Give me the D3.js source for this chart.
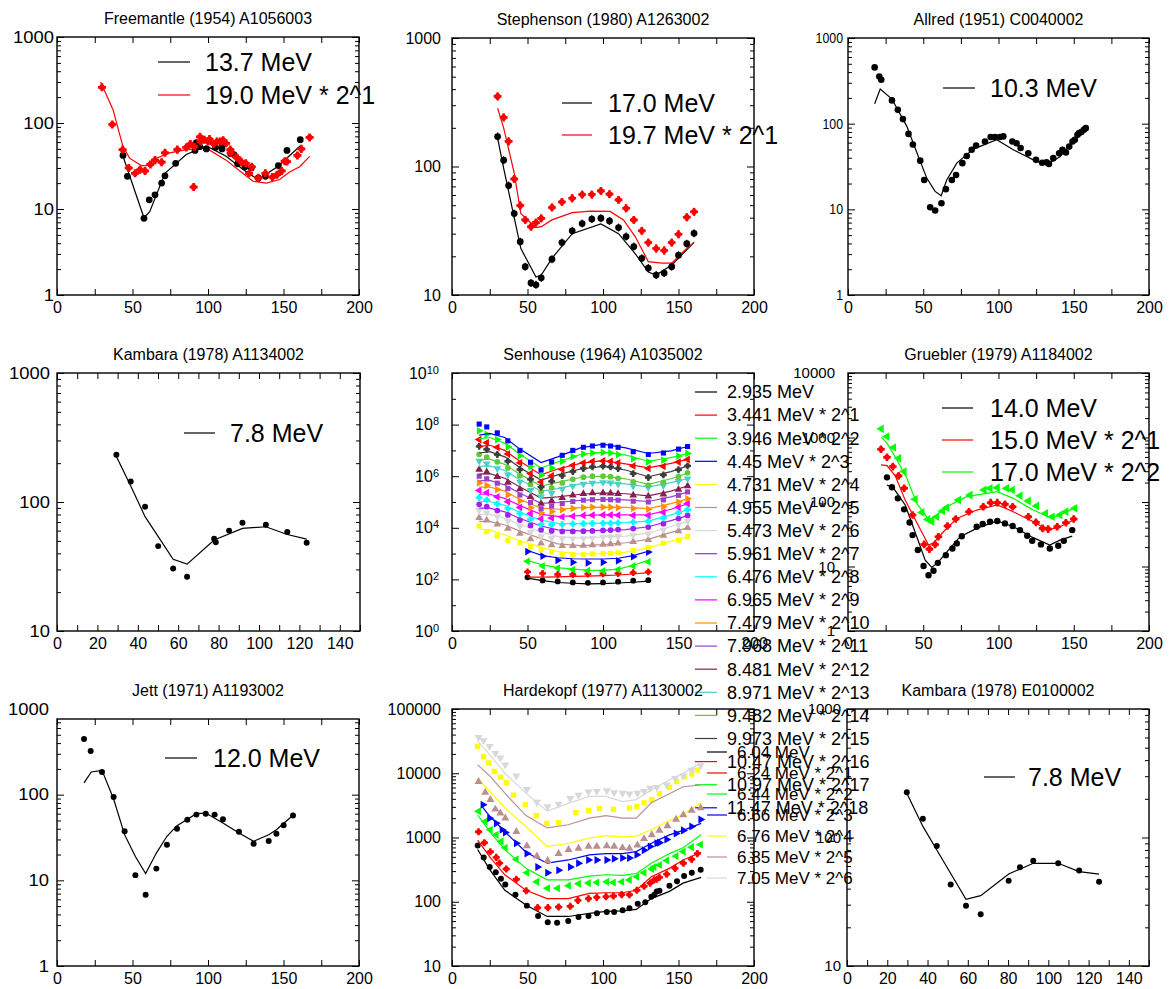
<!DOCTYPE html>
<html>
<head>
<meta charset="utf-8">
<script src="https://cdn.jsdelivr.net/npm/d3@7"></script>
<style>
  body { margin: 0; background: #fff; }
  text { font-family: "Liberation Sans", Arial, Helvetica, sans-serif; fill: #000; }
</style>
</head>
<body>
<svg id="chart" width="1169" height="989"></svg>
<script>
// ---------- Freemantle (1954) A1056003 ----------
const fmBlackX = [43.7, 46.6, 57.6, 61.1, 64.9, 69.3, 71.5, 78.6, 91.4, 92.3, 94.5, 98.9, 105, 109.3, 109.5, 115, 117.2, 119.6, 124.5, 128.7, 133.3, 138, 146.6, 152.3, 161.1];
const fmBlackY = [42, 24, 7.8, 12.8, 14.6, 20, 24.3, 34, 48, 59, 53, 50, 52, 50, 55, 44, 43, 33.5, 31, 30, 23, 24, 32, 48, 64];
const fmRedX = [29.8, 36.6, 43.5, 47.5, 51.7, 55, 58.3, 61.8, 64.9, 69.3, 71.5, 79.7, 85.6, 88.3, 90.5, 91, 94.7, 95.1, 97.6, 100, 101, 103.7, 106, 108.2, 110, 112, 114.8, 115, 118.8, 119.6, 122.3, 125, 127.2, 129, 133.3, 138, 142.6, 145.7, 148.8, 150.8, 152.3, 159.2, 161.8, 167.3];
const fmRedY = [260, 96, 49, 30, 26, 28.6, 27.7, 33, 37, 35, 45, 49, 52, 57, 18, 53, 69, 61, 64, 61, 65, 57, 61, 61, 63, 58, 49, 45, 40, 39, 35, 34, 26, 31, 23, 26, 23.5, 25, 27.7, 36, 35.6, 42, 50, 68];
const fmBlackFitX = [43.7, 57.6, 61.4, 71.5, 85.6, 98.9, 112, 123, 133, 146, 161];
const fmBlackFitY = [41, 7.9, 9.3, 26, 43, 54, 41, 29, 22, 31, 54];
const fmRedFitX = [28.9, 37.1, 43.7, 48.1, 55.8, 59.2, 65.8, 74.6, 85.6, 98.9, 112, 123, 129.8, 138.6, 147.5, 154, 160.7, 167.3];
const fmRedFitY = [300, 143, 53, 39, 32, 32, 39, 45, 49, 51, 37, 26, 21, 20, 22, 27, 31, 41];

// ---------- Stephenson (1980) A1263002 ----------
const stAngles = [30.2, 34.2, 37.5, 41.2, 45.2, 48.5, 52.3, 55.6, 59.1, 66.2, 72.8, 79.6, 86.2, 92.6, 98.6, 104.3, 110.3, 115.3, 120.4, 125.7, 130, 135.2, 140.5, 145.5, 150, 155.5, 160.3];
const stBlackY = [171, 112, 71, 43, 26, 16.6, 12.4, 12, 13.6, 19, 25.6, 31.6, 36, 39, 39.6, 37.7, 33.5, 28.5, 23.8, 19.3, 16.2, 14.3, 14.8, 16.6, 20.4, 25.1, 30.2];
const stRedY = [351, 241, 157, 80, 49.7, 38.4, 34, 36.6, 39.5, 48, 53, 56.6, 60.5, 60.5, 64.6, 61, 55, 47.3, 38.4, 31.6, 25.6, 23, 22.2, 25.6, 29.7, 40.3, 44.4];
const stBlackFitX = [30.2, 34.2, 41.2, 45.6, 55.6, 59.1, 66.2, 79.6, 98.6, 110.3, 121.3, 130, 135.2, 145.5, 160.3];
const stBlackFitY = [166, 97, 40, 23, 13.8, 14.3, 19.3, 30, 35.7, 30, 21, 15.1, 14.3, 17.1, 25.7];
const stRedFitX = [30.2, 34.2, 41.2, 45.6, 55.6, 59.1, 66.2, 79.6, 91.5, 104.7, 113.6, 121.3, 130, 138.9, 145.5, 153.3, 160.3];
const stRedFitY = [285, 200, 89, 43, 33.5, 34, 38.4, 43.7, 45, 44.7, 38.4, 28.5, 18.2, 17.7, 17.7, 21.8, 25.7];

// ---------- Allred (1951) C0040002 ----------
const alX = [17.7, 20.8, 22.1, 29.2, 33.1, 36.5, 40.2, 43.1, 48, 50.6, 54.6, 57.9, 62.1, 65, 69, 71.8, 76, 78.9, 82.2, 85.1, 91, 94.8, 97.7, 101, 103.2, 109.2, 112, 114.7, 119.8, 124.9, 129, 131.9, 133.5, 136.4, 140.3, 142.5, 144.8, 147, 149.2, 150.7, 152.5, 153.6, 155.1, 156.7, 158];
const alY = [454, 356, 326, 187, 145, 113, 76, 57, 37, 22, 10.6, 9.7, 11.8, 17.2, 22, 25.2, 34.6, 42, 49.6, 55.6, 62, 70, 70, 70, 71, 62, 59, 52, 45, 37.8, 35, 35.5, 33.9, 39.6, 45, 49.6, 46, 54, 62, 65, 74, 77.6, 80, 85, 88.7];
const alFitX = [17.7, 21.4, 29.2, 39.1, 46.8, 52.4, 57.9, 61.9, 65.6, 72.3, 83.3, 98.8, 109.8, 123.1, 131.9, 140.8, 149.6, 158];
const alFitY = [171, 254, 194, 93, 41, 23, 16.2, 14.4, 22, 34.6, 50.5, 65, 49.6, 37.8, 33, 41, 62, 93];

// ---------- Kambara (1978) A1134002 ----------
const kaX = [29.4, 36.5, 43.6, 50.1, 57.5, 64.4, 77.8, 78.6, 85.2, 91.8, 103.4, 114, 123.6];
const kaY = [232, 144, 92, 45.5, 30.5, 26.3, 52, 48.7, 60, 69, 66.7, 58.5, 48.3];
const kaFitX = [29.4, 36.5, 43.6, 57.5, 64.4, 77.8, 91.8, 103.4, 114, 123.6];
const kaFitY = [225, 133, 77, 36, 33, 50.7, 62.4, 64.3, 56, 51.5];

// ---------- Senhouse (1964) A1035002 (values are powers of ten, as on its axis) ----------
const senEnergies = ["2.935", "3.441", "3.946", "4.45", "4.731", "4.955", "5.473", "5.961", "6.476", "6.965", "7.479", "7.968", "8.481", "8.971", "9.482", "9.973", "10.47", "10.97", "11.47"];
const senColors = ["#000000", "#ff0000", "#00ff00", "#0000ff", "#ffff00", "#bc8f8f", "#d8d8d8", "#a020f0", "#00ffff", "#ff00ff", "#ff9000", "#9a3fd0", "#862050", "#48d1cc", "#64c83c", "#3c3c3c", "#ff0000", "#00ff00", "#0000ff"];
const senAnglesShort = [50, 60, 70, 80, 90, 100, 110, 120, 130];
const senAnglesLong = [18, 23, 30, 37, 45, 52, 59, 66, 73, 80, 87, 93, 100, 105, 110, 120, 130, 140, 150, 156];
const senFitAnglesLong = [18, 25, 35, 45, 59, 70, 85, 100, 115, 130, 145, 156];
const senMarks = [
  [2.08, 1.96, 1.92, 1.88, 1.87, 1.88, 1.91, 1.95, 1.97],
  [2.29, 2.23, 2.19, 2.19, 2.21, 2.22, 2.23, 2.26, 2.29],
  [2.70, 2.52, 2.44, 2.38, 2.34, 2.33, 2.38, 2.52, 2.68],
  [3.08, 2.90, 2.74, 2.66, 2.64, 2.66, 2.72, 2.88, 3.06],
  [4.07, 3.85, 3.68, 3.51, 3.42, 3.27, 3.15, 3.06, 2.98, 2.96, 2.97, 2.99, 3.00, 3.01, 3.03, 3.12, 3.23, 3.40, 3.52, 3.66],
  [4.39, 4.29, 4.14, 3.97, 3.78, 3.57, 3.40, 3.33, 3.30, 3.30, 3.31, 3.33, 3.35, 3.37, 3.40, 3.46, 3.54, 3.70, 3.88, 4.00],
  [4.68, 4.58, 4.43, 4.26, 4.06, 3.84, 3.66, 3.60, 3.58, 3.58, 3.59, 3.61, 3.64, 3.65, 3.67, 3.71, 3.77, 3.92, 4.12, 4.25],
  [4.91, 4.82, 4.67, 4.50, 4.30, 4.09, 3.92, 3.88, 3.86, 3.86, 3.87, 3.88, 3.90, 3.91, 3.93, 3.97, 4.03, 4.16, 4.36, 4.48],
  [5.17, 5.08, 4.93, 4.75, 4.55, 4.33, 4.13, 4.12, 4.13, 4.15, 4.16, 4.17, 4.18, 4.18, 4.19, 4.22, 4.25, 4.38, 4.58, 4.70],
  [5.45, 5.36, 5.20, 5.01, 4.79, 4.55, 4.35, 4.38, 4.42, 4.45, 4.48, 4.49, 4.50, 4.50, 4.49, 4.48, 4.48, 4.60, 4.80, 4.94],
  [5.74, 5.64, 5.48, 5.28, 5.04, 4.78, 4.57, 4.63, 4.70, 4.75, 4.78, 4.80, 4.80, 4.80, 4.78, 4.75, 4.72, 4.82, 5.00, 5.13],
  [6.00, 5.90, 5.73, 5.52, 5.27, 4.98, 4.74, 4.84, 4.94, 5.02, 5.07, 5.09, 5.10, 5.09, 5.07, 5.03, 5.00, 5.08, 5.26, 5.39],
  [6.26, 6.16, 5.98, 5.76, 5.50, 5.20, 4.94, 5.04, 5.16, 5.26, 5.32, 5.35, 5.35, 5.34, 5.32, 5.26, 5.22, 5.30, 5.48, 5.62],
  [6.59, 6.48, 6.30, 6.06, 5.78, 5.46, 5.20, 5.34, 5.50, 5.62, 5.70, 5.74, 5.76, 5.75, 5.70, 5.62, 5.56, 5.64, 5.80, 5.90],
  [6.85, 6.74, 6.56, 6.32, 6.02, 5.68, 5.40, 5.55, 5.74, 5.88, 5.96, 6.00, 6.00, 5.98, 5.92, 5.78, 5.65, 5.76, 5.98, 6.13],
  [7.16, 7.04, 6.84, 6.58, 6.26, 5.88, 5.58, 5.80, 6.02, 6.18, 6.30, 6.36, 6.39, 6.36, 6.30, 6.10, 5.95, 6.05, 6.25, 6.40],
  [7.42, 7.30, 7.12, 6.86, 6.52, 6.10, 5.78, 6.02, 6.26, 6.42, 6.52, 6.57, 6.59, 6.57, 6.52, 6.40, 6.30, 6.38, 6.55, 6.65],
  [7.76, 7.62, 7.42, 7.14, 6.80, 6.38, 6.04, 6.32, 6.58, 6.76, 6.86, 6.90, 6.92, 6.90, 6.84, 6.68, 6.56, 6.62, 6.78, 6.88],
  [8.02, 7.91, 7.68, 7.37, 7.00, 6.54, 6.24, 6.55, 6.81, 7.00, 7.12, 7.17, 7.20, 7.17, 7.12, 6.95, 6.84, 6.90, 7.05, 7.15]
];
const senFits = [
  [2.05, 1.95, 1.88, 1.85, 1.83, 1.84, 1.86, 1.89, 1.93],
  [2.09, 2.09, 2.10, 2.12, 2.13, 2.15, 2.17, 2.21, 2.26],
  [2.74, 2.56, 2.46, 2.40, 2.36, 2.35, 2.40, 2.55, 2.74],
  [3.12, 2.92, 2.84, 2.80, 2.79, 2.79, 2.82, 2.92, 3.09],
  [3.95, 3.92, 3.72, 3.50, 3.25, 3.08, 2.98, 3.00, 3.06, 3.22, 3.48, 3.66],
  [4.25, 4.25, 4.11, 3.87, 3.58, 3.38, 3.31, 3.35, 3.42, 3.55, 3.82, 4.00],
  [4.52, 4.52, 4.38, 4.13, 3.84, 3.66, 3.60, 3.64, 3.68, 3.79, 4.05, 4.25],
  [4.76, 4.76, 4.62, 4.36, 4.07, 3.92, 3.88, 3.90, 3.93, 4.04, 4.28, 4.47],
  [5.02, 5.02, 4.87, 4.60, 4.30, 4.17, 4.16, 4.18, 4.20, 4.26, 4.50, 4.70],
  [5.30, 5.30, 5.14, 4.86, 4.52, 4.44, 4.47, 4.50, 4.50, 4.50, 4.72, 4.93],
  [5.58, 5.58, 5.42, 5.10, 4.76, 4.72, 4.78, 4.80, 4.79, 4.74, 4.94, 5.12],
  [5.82, 5.84, 5.66, 5.34, 4.95, 4.98, 5.06, 5.10, 5.08, 5.02, 5.20, 5.38],
  [6.08, 6.10, 5.92, 5.58, 5.15, 5.20, 5.30, 5.35, 5.32, 5.24, 5.42, 5.62],
  [6.38, 6.40, 6.22, 5.86, 5.42, 5.52, 5.70, 5.76, 5.70, 5.58, 5.75, 5.90],
  [6.62, 6.66, 6.46, 6.08, 5.62, 5.76, 5.95, 6.00, 5.90, 5.68, 5.90, 6.12],
  [6.90, 6.95, 6.75, 6.33, 5.85, 6.05, 6.28, 6.38, 6.24, 5.98, 6.18, 6.40],
  [7.15, 7.20, 7.00, 6.58, 6.05, 6.28, 6.50, 6.60, 6.48, 6.32, 6.50, 6.65],
  [7.45, 7.50, 7.28, 6.85, 6.32, 6.55, 6.84, 6.93, 6.82, 6.58, 6.72, 6.88],
  [7.59, 7.66, 7.50, 7.05, 6.53, 6.75, 7.10, 7.24, 7.10, 6.88, 6.98, 7.15]
];

// ---------- Gruebler (1979) A1184002 ----------
const grBlackX = [25.9, 29.2, 33.1, 37.3, 40.9, 42.9, 46.4, 50.2, 53.5, 56.8, 59.7, 65, 69.4, 72.3, 75.6, 85.5, 89.5, 94.4, 99.2, 104.3, 109.4, 114.3, 119.1, 122.4, 128.2, 134.1, 139.7, 143.4, 149];
const grBlackY = [241, 169, 114, 77, 48, 30.7, 18, 10.2, 7.3, 8.6, 11.4, 15, 19, 22.8, 29.5, 41.4, 45.5, 49.4, 50.7, 46.6, 42.4, 36.7, 30, 25, 22, 19, 21, 25, 36.7];
const grRedX = [21.9, 25.9, 29.8, 33.6, 37.3, 42.9, 50.6, 54.1, 57.9, 60.1, 66.1, 71.6, 80.4, 89.9, 94.8, 99.2, 104.3, 109.4, 119.8, 124.9, 129.3, 133, 139, 144.8, 150];
const grRedY = [659, 494, 354, 254, 163, 63, 22, 18.6, 22, 29, 42.4, 54.5, 70.8, 84.6, 97.7, 97.7, 92, 84.6, 59, 48.3, 39, 38, 41.4, 47.8, 54.5];
const grGreenX = [22.1, 25.9, 30.3, 33.6, 37.3, 44.6, 49.1, 53, 55.7, 59, 62.8, 65.6, 73.4, 81.1, 90.4, 94.4, 99.2, 105.4, 109.2, 114.3, 119.8, 125.3, 131.3, 135.7, 140.8, 144.8, 150.7];
const grGreenY = [1365, 1038, 700, 478, 297, 110, 69, 53.7, 49.4, 59, 72.4, 81.7, 107, 128, 154, 163, 167, 163, 154, 125, 104, 87, 66.7, 59, 63, 70.8, 80];
const grBlackFitX = [25.9, 30.3, 38, 45.7, 51.3, 55.7, 60.1, 66.7, 74.5, 85.5, 99.2, 109.8, 123.1, 134.1, 140.8, 149];
const grBlackFitY = [184, 163, 90, 29, 12.5, 9.7, 11.8, 18, 29, 39, 51, 41.4, 28, 21.5, 25.6, 29.6];
const grRedFitX = [21.9, 25.9, 31.4, 38, 45.7, 53.5, 56.8, 63.4, 72.3, 85.5, 99.2, 109.8, 123.1, 133, 140.8, 150];
const grRedFitY = [376, 367, 254, 107, 48, 21.5, 23.3, 34.6, 55.7, 75, 90, 70.8, 49.4, 36.7, 41.4, 52.5];
const grGreenFitX = [22.1, 25.9, 32.5, 39.1, 45.7, 53.5, 56.8, 65.6, 78.9, 99.2, 109.8, 123.1, 135.3, 143, 150.7];
const grGreenFitY = [1012, 817, 450, 233, 95, 53.7, 57.8, 84.6, 121, 145, 114, 75, 55.7, 66.7, 81.7];

// ---------- Jett (1971) A1193002 ----------
const jtX = [17.9, 22.3, 29.8, 37.5, 44.8, 51.9, 58.7, 65.8, 72.8, 79.5, 86.3, 92.3, 98.5, 104.4, 109.9, 120.5, 130.2, 140.2, 145.3, 150.1, 156.3];
const jtY = [447, 324, 184, 94, 37.3, 11.5, 6.8, 13.7, 26, 40, 51, 58.5, 60, 58.5, 51.5, 37, 26.8, 28.8, 35, 43.9, 57];
const jtFitX = [17.9, 22.7, 29.8, 37.5, 44.8, 51.9, 58.7, 65.8, 72.8, 79.5, 92.3, 98.5, 109.9, 120.5, 130.2, 140.2, 145.3, 156.3];
const jtFitY = [137, 184, 192, 89, 34, 19, 12, 20.8, 32.7, 43.5, 60, 61, 46.7, 35.7, 28.5, 34, 39, 57.4];

// ---------- Hardekopf (1977) A1130002 ----------
const hkEnergies = ["6.04", "6.24", "6.44", "6.66", "6.76", "6.85", "7.05"];
const hkColors = ["#000000", "#ff0000", "#00ff00", "#0000ff", "#ffff00", "#bc8f8f", "#d8d8d8"];
const hkMarkX = [
  [17, 21, 25, 29, 32.4, 35.3, 42, 49.6, 57, 63.4, 69.6, 77, 83.8, 90.4, 96, 102.5, 107.4, 113, 117.5, 123, 128, 132, 134, 135.6, 137.4, 144, 149, 153.7, 158.8, 164.7],
  [17.6, 21.4, 25.4, 29.3, 31.5, 35.9, 42.6, 49.2, 56.7, 63.5, 70.6, 78.3, 83.4, 90.4, 95.9, 102, 106.9, 112.4, 117.5, 122.4, 127.2, 131.2, 133.8, 135.6, 137.4, 142.2, 147.7, 153.2, 158.7, 162.5],
  [17.6, 22, 25.4, 29.3, 32.6, 35.3, 42.6, 49.6, 56.2, 63.3, 69.9, 77.2, 83.8, 90.4, 95.9, 102.5, 106.9, 112.5, 117.5, 122.4, 127.2, 132.3, 133.8, 137.4, 142.2, 148.4, 153.2, 158.7, 164.6],
  [20.5, 24.9, 29.3, 33.1, 35.3, 42.6, 49.6, 56.7, 63.3, 70.6, 78.3, 83.8, 90.4, 95.9, 102.5, 107.4, 112.9, 117.5, 122.4, 127.2, 131.2, 135.6, 137.4, 142.2, 148.4, 153.2, 158.7, 164.7],
  [17, 20.9, 24.3, 28, 32, 35.9, 40.8, 48.5, 55.8, 62.8, 70.6, 82, 90.4, 97.7, 106.9, 117.5, 122.4, 127.2, 132.3, 137.4, 144, 148.8, 153.7, 158.8, 162.5],
  [17.6, 22, 25.4, 28.7, 32, 35.3, 42.6, 49.6, 56.2, 63.3, 70.6, 77.2, 83.8, 90.4, 95.9, 102.5, 107.4, 112.9, 117.5, 122.8, 127.2, 132.3, 137.4, 142.7, 148.4, 153.2, 158.7, 164.7],
  [17.6, 20.9, 24.9, 28.7, 32, 35.3, 42.6, 49.6, 56.2, 63.3, 70.6, 78.3, 83.8, 90.4, 95.9, 102.5, 107.4, 112.9, 117.5, 122.8, 127.2, 131.2, 135.6, 142.2, 147.7, 153.2, 158.7, 164.7]
];
const hkMarkY = [
  [750, 490, 347, 288, 229, 186, 129, 87, 60, 48, 47, 50, 58, 60, 66, 69, 69, 74, 79, 93, 98, 120, 129, 145, 148, 178, 209, 251, 282, 316],
  [1230, 830, 600, 490, 400, 324, 224, 148, 81, 81, 83, 85, 105, 112, 117, 120, 123, 129, 129, 151, 174, 195, 219, 224, 240, 269, 331, 398, 457, 562],
  [2570, 1780, 1320, 1100, 870, 690, 457, 282, 204, 162, 162, 178, 190, 195, 200, 204, 200, 204, 219, 245, 282, 324, 347, 372, 437, 513, 603, 708, 776],
  [3240, 2000, 1660, 1320, 1200, 813, 562, 347, 282, 309, 347, 398, 447, 447, 447, 468, 479, 479, 537, 631, 724, 813, 832, 933, 1150, 1290, 1480, 1910],
  [26300, 18200, 14500, 10700, 8700, 7100, 4570, 3240, 2190, 1660, 1700, 2450, 2630, 2820, 2750, 2880, 3020, 3470, 3890, 4790, 6030, 7410, 8910, 9770, 11200],
  [7400, 5010, 3890, 2750, 2400, 2000, 1230, 741, 513, 437, 562, 646, 676, 724, 724, 741, 724, 692, 676, 759, 955, 1100, 1290, 1510, 1910, 2240, 2630, 2880],
  [36300, 32400, 26300, 20400, 17400, 13500, 9100, 5620, 3550, 3020, 3310, 4070, 4570, 5130, 5250, 5370, 5010, 4900, 4790, 4900, 5250, 5890, 6030, 6610, 8320, 9120, 11200, 13200]
];
const hkFitAngles = [17, 25, 35, 49, 63, 77, 91, 102, 113, 122, 132, 144, 153, 165];
const hkFitAnglesBlue = [20, 25, 35, 49, 63, 77, 91, 102, 113, 122, 132, 144, 153, 165];
const hkFitY = [
  [650, 316, 151, 89, 59, 59, 66, 71, 72, 76, 112, 145, 195, 240],
  [910, 500, 263, 151, 112, 112, 135, 138, 138, 151, 245, 331, 447, 590],
  [2240, 1230, 646, 331, 219, 219, 251, 263, 257, 275, 398, 562, 692, 1100],
  [3020, 2140, 1230, 589, 398, 447, 537, 562, 562, 603, 813, 1100, 1290, 1660],
  [8300, 5250, 2880, 1480, 724, 813, 977, 1070, 1020, 1050, 1320, 1820, 2290, 3470],
  [13500, 9100, 4900, 2190, 1410, 1580, 2000, 2190, 2000, 2000, 3470, 4790, 6170, 6610],
  [31600, 19500, 10000, 4900, 2570, 3390, 4370, 4370, 3630, 3890, 5500, 7940, 10000, 14500]
];

// ---------- Kambara (1978) E0100002 ----------
const keX = [29.7, 37.7, 44.6, 51.5, 59.1, 66.4, 80.3, 85.9, 92.5, 104.9, 115.3, 125.2];
const keY = [225, 140, 86, 43, 29.4, 25.3, 46, 58.7, 66, 63, 55.3, 45.2];
const keFitX = [29.7, 37.7, 44.6, 59.1, 66.4, 80.3, 92.5, 104.9, 115.3, 125.2];
const keFitY = [221, 122, 80, 33, 35.3, 52, 63, 63, 54.3, 51.8];

// ================= drawing =================
const svg = d3.select("#chart");

// marker cycle used by the plotting program: circle, cross, left/right triangle, square, up/down triangle
const markerCycle = [
  [d3.symbolCircle, 0], [d3.symbolCross, 0], [d3.symbolTriangle, -90],
  [d3.symbolTriangle, 90], [d3.symbolSquare, 0], [d3.symbolTriangle, 0], [d3.symbolTriangle, 180]
];

function decadeTicks(lo, hi) {
  const majors = [], minors = [];
  for (let d = lo; d <= hi; d *= 10) {
    majors.push(d);
    if (d < hi) for (let k = 2; k <= 9; k++) minors.push(k * d);
  }
  return { majors, minors };
}

function panel(o) {
  const g = svg.append("g");
  const fTop = o.frameTop || o.top;
  const x = d3.scaleLinear().domain(o.xDomain).range([o.left, o.right]);
  const y = o.y.copy().range([o.bottom, o.top]);
  const inFrame = v => y(v) >= fTop - 0.5;

  g.append("text")
    .attr("x", (o.left + o.right) / 2).attr("y", o.top - 13)
    .attr("text-anchor", "middle").style("font-size", "16px")
    .text(o.title);

  // x axes (bottom with labels, top ticks only)
  const xt = d3.range(o.xDomain[0], o.xDomain[1] + 1e-9, o.xStep);
  const xb = g.append("g").attr("transform", `translate(0,${o.bottom})`)
    .call(d3.axisBottom(x).tickValues(xt).tickSize(-6).tickSizeOuter(0).tickPadding(7)
      .tickFormat(d => d % o.xLabelStep === 0 ? d : ""));
  xb.selectAll("text").style("font-size", "16px");
  g.append("g").attr("transform", `translate(0,${fTop})`)
    .call(d3.axisTop(x).tickValues(xt).tickSize(-6).tickSizeOuter(0).tickFormat(""));

  // y axes
  const majors = o.yTicks.majors, minors = o.yTicks.minors.filter(inFrame);
  const st = o.yStretch || 1;
  const yl = g.append("g").attr("transform", `translate(${o.left},0)`)
    .call(d3.axisLeft(y).tickValues(majors).tickSize(-7).tickSizeOuter(0).tickPadding(o.yPad)
      .tickFormat(o.yFormat || (d => d)));
  yl.selectAll(".tick").filter(d => !inFrame(d)).select("line").remove();
  yl.selectAll("text").style("font-size", (o.yFont || 16) + "px")
    .attr("transform", `scale(${st},1)`).attr("x", -o.yPad / st);
  g.append("g").attr("transform", `translate(${o.left},0)`)
    .call(d3.axisLeft(y).tickValues(minors).tickSize(-4).tickSizeOuter(0).tickFormat(""));
  g.append("g").attr("transform", `translate(${o.right},0)`)
    .call(d3.axisRight(y).tickValues(majors.filter(inFrame)).tickSize(-7).tickSizeOuter(0).tickFormat(""));
  g.append("g").attr("transform", `translate(${o.right},0)`)
    .call(d3.axisRight(y).tickValues(minors).tickSize(-4).tickSizeOuter(0).tickFormat(""));
  g.selectAll(".domain").remove();
  g.selectAll(".tick line").attr("stroke", "#000");

  g.append("rect")
    .attr("x", o.left).attr("y", fTop)
    .attr("width", o.right - o.left).attr("height", o.bottom - fTop)
    .attr("fill", "none").attr("stroke", "#000").attr("stroke-width", 1.4);

  return { g, x, y };
}

function curve(p, xs, ys, color) {
  const line = d3.line().x(d => p.x(d[0])).y(d => p.y(d[1]));
  p.g.append("path")
    .datum(xs.map((v, i) => [v, ys[i]]))
    .attr("d", line).attr("fill", "none")
    .attr("stroke", color).attr("stroke-width", 1.2);
}

function marks(p, xs, ys, color, shapeIdx, size, errBar) {
  const [type, rot] = markerCycle[shapeIdx % 7];
  const sym = d3.symbol().type(type).size(size);
  const pts = xs.map((v, i) => [v, ys[i]]);
  const at = d => `translate(${p.x(d[0])},${p.y(d[1])})`;
  if (errBar) {
    p.g.selectAll(null).data(pts).join("line")
      .attr("x1", d => p.x(d[0])).attr("x2", d => p.x(d[0]))
      .attr("y1", d => p.y(d[1]) - errBar).attr("y2", d => p.y(d[1]) + errBar)
      .attr("stroke", color).attr("stroke-width", 1.2);
  }
  if (shapeIdx % 7 === 1) {
    // the "cross" marker is a rounded, heavy plus: a disc under the cross
    const disc = d3.symbol().type(d3.symbolCircle).size(size * 0.75);
    p.g.selectAll(null).data(pts).join("path")
      .attr("d", disc).attr("fill", color).attr("transform", at);
  }
  p.g.selectAll(null).data(pts).join("path")
    .attr("d", sym).attr("fill", color)
    .attr("transform", d => `${at(d)} rotate(${rot})`);
}

function legend(p, items, o) {
  items.forEach((it, i) => {
    const yy = o.y0 + i * o.dy;
    p.g.append("line").attr("x1", o.x1).attr("x2", o.x2).attr("y1", yy).attr("y2", yy)
      .attr("stroke", it.color).attr("stroke-width", 1.2);
    p.g.append("text").attr("x", o.tx).attr("y", yy).attr("dy", "0.35em")
      .style("font-size", o.fs + "px").text(it.label);
  });
}

const x200 = { xDomain: [0, 200], xStep: 25, xLabelStep: 50 };
const x150 = { xDomain: [0, 150], xStep: 10, xLabelStep: 20 };

// 1 Freemantle
const p1 = panel({ ...x200, left: 57, right: 359, top: 37, bottom: 295,
  y: d3.scaleLog().domain([1, 1000]), yTicks: decadeTicks(1, 1000), yPad: 3, yStretch: 1.15,
  title: "Freemantle (1954) A1056003" });
curve(p1, fmBlackFitX, fmBlackFitY, "#000");
curve(p1, fmRedFitX, fmRedFitY, "#ff0000");
marks(p1, fmBlackX, fmBlackY, "#000", 0, 36);
marks(p1, fmRedX, fmRedY, "#ff0000", 1, 36);
legend(p1, [{ label: "13.7 MeV", color: "#000" }, { label: "19.0 MeV * 2^1", color: "#ff0000" }],
  { x1: 158, x2: 190, tx: 205, y0: 62, dy: 33, fs: 25 });

// 2 Stephenson
const p2 = panel({ ...x200, left: 452, right: 754, top: 38, bottom: 295,
  y: d3.scaleLog().domain([10, 1000]), yTicks: decadeTicks(10, 1000), yPad: 11,
  title: "Stephenson (1980) A1263002" });
curve(p2, stBlackFitX, stBlackFitY, "#000");
curve(p2, stRedFitX, stRedFitY, "#ff0000");
marks(p2, stAngles, stBlackY, "#000", 0, 36, 4);
marks(p2, stAngles, stRedY, "#ff0000", 1, 34, 4);
legend(p2, [{ label: "17.0 MeV", color: "#000" }, { label: "19.7 MeV * 2^1", color: "#ff0000" }],
  { x1: 562, x2: 592, tx: 608, y0: 103, dy: 32, fs: 25 });

// 3 Allred
const p3 = panel({ ...x200, left: 848, right: 1149, top: 38, bottom: 295,
  y: d3.scaleLog().domain([1, 1000]), yTicks: decadeTicks(1, 1000), yPad: 5, yFont: 14, yStretch: 0.88,
  title: "Allred (1951) C0040002" });
curve(p3, alFitX, alFitY, "#000");
marks(p3, alX, alY, "#000", 0, 34);
legend(p3, [{ label: "10.3 MeV", color: "#000" }], { x1: 943, x2: 975, tx: 990, y0: 88, dy: 32, fs: 25 });

// 4 Kambara A1134002
const p4 = panel({ ...x150, left: 57, right: 360, top: 373, bottom: 631,
  y: d3.scaleLog().domain([10, 1000]), yTicks: decadeTicks(10, 1000), yPad: 7, yStretch: 1.15,
  title: "Kambara (1978) A1134002" });
curve(p4, kaFitX, kaFitY, "#000");
marks(p4, kaX, kaY, "#000", 0, 28);
legend(p4, [{ label: "7.8 MeV", color: "#000" }], { x1: 184, x2: 215, tx: 230, y0: 433, dy: 32, fs: 25 });

// 5 Senhouse
const p5 = panel({ ...x200, left: 452, right: 754, top: 373, bottom: 631,
  y: d3.scaleLinear().domain([0, 10]), yTicks: { majors: [0, 2, 4, 6, 8, 10], minors: [1, 3, 5, 7, 9] },
  yPad: 13, yFormat: () => "", title: "Senhouse (1964) A1035002" });
[0, 2, 4, 6, 8, 10].forEach(e => {
  const t = p5.g.append("text").attr("x", 439).attr("y", p5.y(e)).attr("dy", "0.35em")
    .attr("text-anchor", "end").style("font-size", "16px");
  t.append("tspan").text("10");
  t.append("tspan").attr("dy", "-0.45em").style("font-size", "11px").text(e);
});
senMarks.forEach((ys, i) => {
  const xs = i < 4 ? senAnglesShort : senAnglesLong;
  const fx = i < 4 ? senAnglesShort : senFitAnglesLong;
  curve(p5, fx, senFits[i], senColors[i]);
  marks(p5, xs, ys, senColors[i], i, 26);
});

// 6 Gruebler
const p6 = panel({ ...x200, left: 848, right: 1149, top: 373, bottom: 631,
  y: d3.scaleLog().domain([1, 10000]), yTicks: decadeTicks(1, 10000), yPad: 13, yFont: 15,
  title: "Gruebler (1979) A1184002" });
curve(p6, grBlackFitX, grBlackFitY, "#000");
curve(p6, grRedFitX, grRedFitY, "#ff0000");
curve(p6, grGreenFitX, grGreenFitY, "#00ff00");
marks(p6, grBlackX, grBlackY, "#000", 0, 32);
marks(p6, grRedX, grRedY, "#ff0000", 1, 32);
marks(p6, grGreenX, grGreenY, "#00ff00", 2, 32);

// Senhouse legend runs down over the neighbouring panels, as in the original
legend(p5, senEnergies.map((e, i) => ({ label: i === 0 ? `${e} MeV` : `${e} MeV * 2^${i}`, color: senColors[i] })),
  { x1: 695, x2: 717, tx: 727, y0: 392, dy: 23.1, fs: 18 });
legend(p6, [{ label: "14.0 MeV", color: "#000" }, { label: "15.0 MeV * 2^1", color: "#ff0000" }, { label: "17.0 MeV * 2^2", color: "#00ff00" }],
  { x1: 942, x2: 973, tx: 990, y0: 408, dy: 32, fs: 25 });

// 7 Jett
const p7 = panel({ ...x200, left: 57, right: 359, top: 709, frameTop: 719, bottom: 966,
  y: d3.scaleLog().domain([1, 1000]), yTicks: decadeTicks(1, 1000), yPad: 8, yStretch: 1.15,
  title: "Jett (1971) A1193002" });
curve(p7, jtFitX, jtFitY, "#000");
marks(p7, jtX, jtY, "#000", 0, 28);
legend(p7, [{ label: "12.0 MeV", color: "#000" }], { x1: 165, x2: 197, tx: 213, y0: 758, dy: 32, fs: 25 });

// 8 Hardekopf
const p8 = panel({ ...x200, left: 452, right: 754, top: 709, bottom: 966,
  y: d3.scaleLog().domain([10, 100000]), yTicks: decadeTicks(10, 100000), yPad: 11,
  title: "Hardekopf (1977) A1130002" });
hkMarkY.forEach((ys, i) => {
  curve(p8, i === 3 ? hkFitAnglesBlue : hkFitAngles, hkFitY[i], hkColors[i]);
  marks(p8, hkMarkX[i], ys, hkColors[i], i, 28);
});
legend(p8, hkEnergies.map((e, i) => ({ label: i === 0 ? `${e} MeV` : `${e} MeV * 2^${i}`, color: hkColors[i] })),
  { x1: 707, x2: 727, tx: 737, y0: 752, dy: 21, fs: 17 });

// 9 Kambara E0100002
const p9 = panel({ ...x150, left: 847, right: 1149, top: 709, bottom: 966,
  y: d3.scaleLog().domain([10, 1000]), yTicks: decadeTicks(10, 1000), yPad: 6, yFont: 15,
  title: "Kambara (1978) E0100002" });
curve(p9, keFitX, keFitY, "#000");
marks(p9, keX, keY, "#000", 0, 28);
legend(p9, [{ label: "7.8 MeV", color: "#000" }], { x1: 984, x2: 1015, tx: 1028, y0: 777, dy: 32, fs: 25 });
</script>
</body>
</html>
